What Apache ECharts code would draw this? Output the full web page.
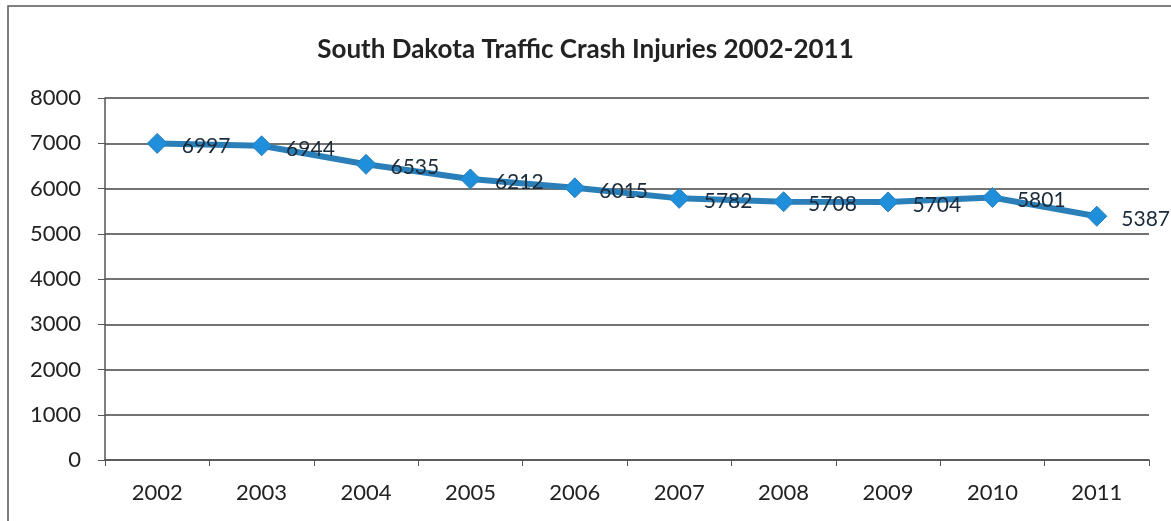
<!DOCTYPE html>
<html>
<head>
<meta charset="utf-8">
<script src="https://cdn.jsdelivr.net/npm/echarts@6/dist/echarts.min.js"></script>
<style>
  html, body { margin: 0; padding: 0; background: #fff; }
  #chart { width: 1171px; height: 521px; }
</style>
</head>
<body>
<div id="chart"></div>
<script>
  // crash injuries per year
  const years = ['2002', '2003', '2004', '2005', '2006', '2007', '2008', '2009', '2010', '2011']
  const injuries = [6997, 6944, 6535, 6212, 6015, 5782, 5708, 5704, 5801, 5387]

  const chart = echarts.init(document.getElementById('chart'))
  const font = 'Lato, "Open Sans", sans-serif'

  chart.setOption({
    backgroundColor: '#fff',
    animation: false,
    title: {
      text: 'South Dakota Traffic Crash Injuries 2002-2011',
      left: 'center',
      top: 32,
      textStyle: { fontFamily: font, fontSize: 26, fontWeight: 'bold', color: '#222' }
    },
    graphic: [{
      type: 'rect',
      shape: { x: 8, y: 6, width: 1300, height: 700 },
      style: { fill: 'none', stroke: '#555', lineWidth: 1.5 },
      silent: true
    }],
    grid: { left: 105, right: 22, top: 98, bottom: 61 },
    xAxis: {
      type: 'category',
      data: years,
      boundaryGap: true,
      axisLine: { lineStyle: { color: '#555', width: 1.5 } },
      axisTick: { show: true, length: 6, lineStyle: { color: '#555' } },
      axisLabel: { fontFamily: font, fontSize: 22, color: '#222', margin: 22 }
    },
    yAxis: {
      type: 'value',
      min: 0,
      max: 8000,
      interval: 1000,
      axisLine: { show: true, lineStyle: { color: '#555', width: 1.5 } },
      axisTick: { show: true, length: 7, lineStyle: { color: '#555' } },
      axisLabel: { fontFamily: font, fontSize: 22, color: '#222', margin: 24, formatter: v => String(v) },
      splitLine: { lineStyle: { color: '#444', width: 1.5 } }
    },
    series: [{
      type: 'line',
      data: injuries,
      symbol: 'diamond',
      symbolSize: 20,
      lineStyle: { color: '#2a7fb8', width: 6 },
      itemStyle: { color: '#1f8fdc', borderColor: '#2a7fb8', borderWidth: 1 },
      label: {
        show: true,
        position: 'right',
        distance: 14,
        offset: [0, 3],
        fontFamily: font,
        fontSize: 21,
        color: '#1c2b3a'
      }
    }]
  })
</script>
</body>
</html>
